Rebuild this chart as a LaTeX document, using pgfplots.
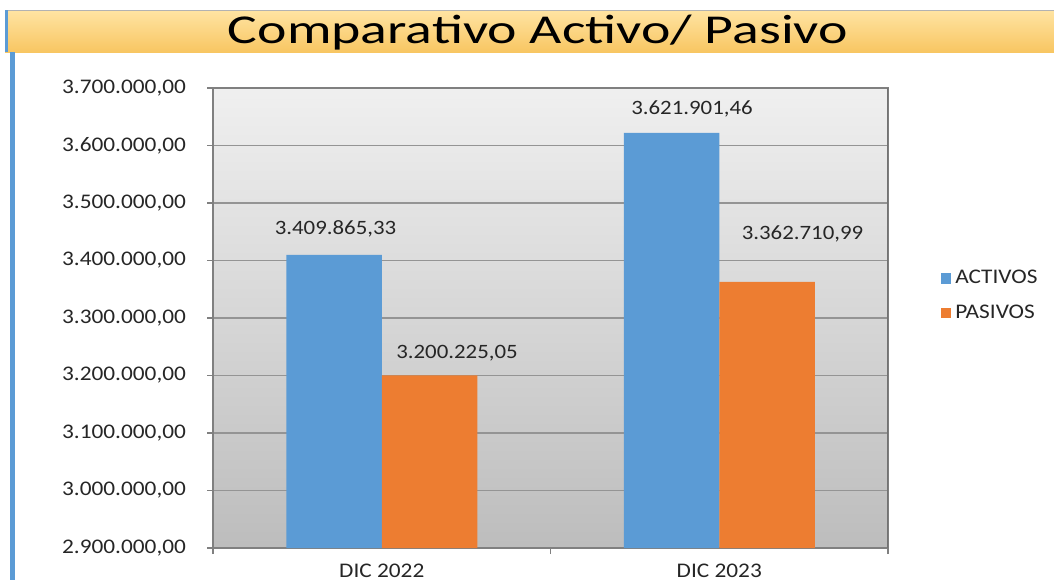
\documentclass[border=0pt]{standalone}
\usepackage{fontspec}
\setmainfont{Carlito}[FakeStretch=1.12]
\newfontfamily\titlefont{Carlito}[FakeStretch=1.36]
\usepackage{pgfplots}
\usepackage{pgfplotstable}
\pgfplotsset{compat=1.18}
\definecolor{cblue}{HTML}{5B9BD5}
\definecolor{corange}{HTML}{ED7D31}
\definecolor{frameblue}{HTML}{5B9BD5}
\definecolor{titletop}{HTML}{FFE4A3}
\definecolor{titlebot}{HTML}{F8C662}
\definecolor{txt}{HTML}{262626}

\pgfplotstableread{
x y dx dy lab
0 3409865.33 0.75 13 {3.409.865,33}
1 3621901.46 10.25 12 {3.621.901,46}
}\activos
\pgfplotstableread{
x y dx dy lab
0 3200225.05 13.75 11 {3.200.225,05}
1 3362710.99 17.75 24 {3.362.710,99}
}\pasivos

\begin{document}
\begin{tikzpicture}
\fill[white] (0pt,0pt) rectangle (527pt,-290pt);
\useasboundingbox (0pt,0pt) rectangle (527pt,-290pt);
% title bar
\shade[top color=titletop, bottom color=titlebot] (2.5pt,-5pt) rectangle (527pt,-26pt);
\draw[gray!60, line width=0.5pt] (2.5pt,-5pt) -- (527pt,-5pt);
\fill[frameblue] (2.5pt,-5pt) rectangle (3.8pt,-26pt);
\fill[frameblue] (5.0pt,-26pt) rectangle (7.5pt,-290pt);
\node[font=\titlefont\fontsize{20.5}{24}\selectfont, text=black, inner sep=0pt] at (269pt,-16.5pt) {Comparativo Activo/ Pasivo};

\begin{axis}[
  at={(106.5pt,-274pt)}, anchor=south west,
  scale only axis, width=337.5pt, height=230pt,
  xmin=-0.5, xmax=1.5, ymin=2900000, ymax=3700000,
  scaled y ticks=false,
  ybar=0pt, bar width=47.75pt,
  axis background/.style={shade, top color=black!6, bottom color=black!26},
  axis line style={draw=black!50, line width=0.6pt},
  ymajorgrids, grid style={draw=black!42, line width=0.6pt},
  ytick={2900000,3000000,3100000,3200000,3300000,3400000,3500000,3600000,3700000},
  yticklabels={{2.900.000,00},{3.000.000,00},{3.100.000,00},{3.200.000,00},{3.300.000,00},{3.400.000,00},{3.500.000,00},{3.600.000,00},{3.700.000,00}},
  yticklabel style={font=\fontsize{10.4}{12}\selectfont, text=txt, xshift=-7pt},
  xtick={-0.5,0.5,1.5}, xticklabels={},
  extra x ticks={0,1}, extra x tick labels={DIC 2022,DIC 2023},
  extra x tick style={major tick length=0pt, xticklabel style={font=\fontsize{10.4}{12}\selectfont, text=txt, yshift=-4.5pt}},
  tick align=outside, major tick length=3pt,
  tick style={draw=black!50, line width=0.6pt},
  xtick pos=bottom, ytick pos=left,
  /pgf/number format/assume math mode=true,
  point meta=explicit symbolic,
  nodes near coords,
  visualization depends on={\thisrow{dx} \as \dx},
  visualization depends on={\thisrow{dy} \as \dy},
  nodes near coords style={font=\fontsize{10.2}{12}\selectfont, text=txt, anchor=center, xshift=\dx pt, yshift=\dy pt},
  legend style={at={(1.069,0.548)}, anchor=west, draw=none, fill=none,
     font=\fontsize{10.4}{11}\selectfont, text=txt, row sep=5pt,
     /tikz/every even column/.append style={column sep=0pt}},
  legend cell align=left,
  legend image code/.code={\fill[#1, draw=none] (0pt,-2.6pt) rectangle (5.2pt,2.6pt);},
]
\addplot[fill=cblue, draw=none] table[x=x, y=y, meta=lab] {\activos};
\addplot[fill=corange, draw=none] table[x=x, y=y, meta=lab] {\pasivos};
\legend{ACTIVOS, PASIVOS}
\draw[black!55, line width=1pt] (rel axis cs:1,0) -- (rel axis cs:1,1);
\end{axis}
\end{tikzpicture}
\end{document}
